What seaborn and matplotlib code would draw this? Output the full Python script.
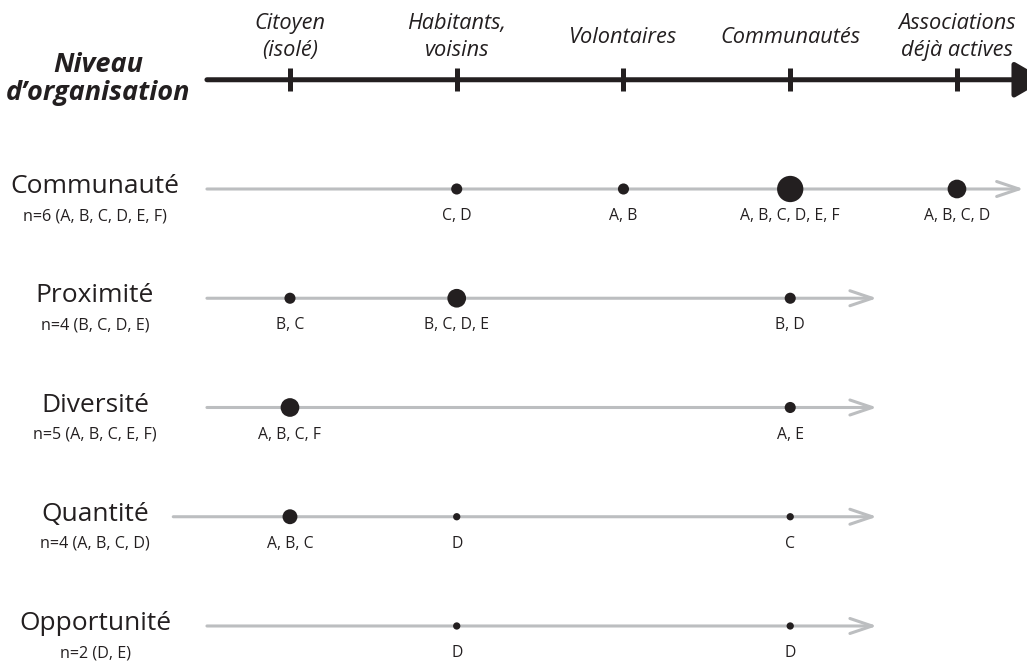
import matplotlib
matplotlib.use('Agg')
import matplotlib.pyplot as plt
import pandas as pd
import seaborn as sns

# Data
levels = ['Citoyen\n(isolé)', 'Habitants,\nvoisins', 'Volontaires', 'Communautés', 'Associations\ndéjà actives']
rows = ['Communauté', 'Proximité', 'Diversité', 'Quantité', 'Opportunité']
row_notes = ['n=6 (A, B, C, D, E, F)', 'n=4 (B, C, D, E)', 'n=5 (A, B, C, E, F)', 'n=4 (A, B, C, D)', 'n=2 (D, E)']
communaute = {1: 'C, D', 2: 'A, B', 3: 'A, B, C, D, E, F', 4: 'A, B, C, D'}
proximite = {0: 'B, C', 1: 'B, C, D, E', 3: 'B, D'}
diversite = {0: 'A, B, C, F', 3: 'A, E'}
quantite = {0: 'A, B, C', 1: 'D', 3: 'C'}
opportunite = {1: 'D', 3: 'D'}

records = []
for r, series in enumerate([communaute, proximite, diversite, quantite, opportunite]):
    for lvl, lab in series.items():
        records.append({'row': r, 'level': lvl, 'label': lab, 'count': len(lab.split(', '))})
df = pd.DataFrame(records)

DARK = '#231f20'
GREY = '#bcbec0'

sns.set_style('white')
plt.rcParams['font.family'] = ['Open Sans', 'DejaVu Sans']

fig = plt.figure(figsize=(10.27, 6.64), dpi=100)
ax = fig.add_axes([0, 0, 1, 1])
XLIM = (-1.739, 4.42)
YLIM = (4.348, -1.73)

# Top axis: organisation level
ax.annotate('', xy=(4.53, -1), xytext=(-0.498, -1), annotation_clip=False,
            arrowprops=dict(arrowstyle='-|>,head_length=0.95,head_width=0.55', lw=3.6,
                            color=DARK, shrinkA=0, shrinkB=0, mutation_scale=20))
for i, lab in enumerate(levels):
    ax.plot([i, i], [-1.105, -0.895], color=DARK, lw=3.6, solid_capstyle='butt')
    lines = lab.split('\n')
    ys = [-1.4645, -1.2174] if len(lines) == 2 else [-1.336]
    for line, y in zip(lines, ys):
        ax.text(i, y, line, ha='center', va='baseline', style='italic', fontsize=15.7,
                color=DARK)
ax.text(-1.151, -1.067, 'Niveau', ha='center', va='baseline',
        style='italic', fontweight='bold', fontsize=19.5, color=DARK)
ax.text(-1.151, -0.815, 'd\u2019organisation', ha='center', va='baseline',
        style='italic', fontweight='bold', fontsize=19.5, color=DARK)

# Row lines
for r in range(len(rows)):
    x0 = -0.70 if rows[r] == 'Quantité' else -0.498
    x1 = 4.40 if r == 0 else 3.52
    ax.annotate('', xy=(x1, r), xytext=(x0, r),
                arrowprops=dict(arrowstyle='->,head_length=0.8,head_width=0.27', lw=2.2,
                                color=GREY, shrinkA=0, shrinkB=0, mutation_scale=20))
    ax.text(-1.169, r + 0.037, rows[r], ha='center', va='baseline', fontsize=19, color=DARK)
    ax.text(-1.169, r + 0.284, row_notes[r], ha='center', va='baseline', fontsize=11.6, color=DARK)

size_map = {n: (0.72 * (3.8 * n + 3.5)) ** 2 for n in range(1, 7)}
sns.scatterplot(data=df, x='level', y='row', size='count', sizes=size_map,
                color=DARK, edgecolor='none', legend=False, ax=ax, zorder=5)
for _, d in df.iterrows():
    ax.text(d['level'], d['row'] + 0.284, d['label'], ha='center', va='baseline',
            fontsize=11.3, color=DARK)

ax.set_xlim(*XLIM)
ax.set_ylim(*YLIM)
ax.axis('off')
fig.savefig('out.png', dpi=100)
